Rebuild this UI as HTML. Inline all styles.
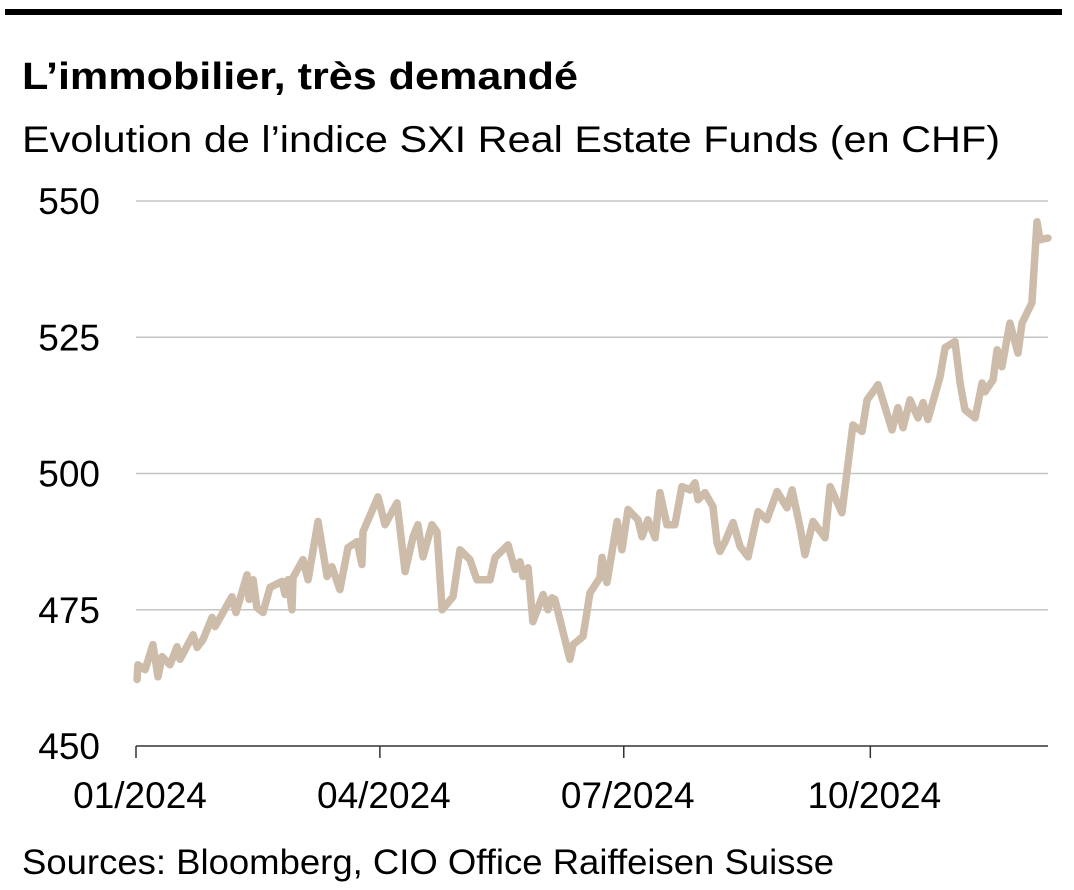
<!DOCTYPE html>
<html><head><meta charset="utf-8"><style>
html,body{margin:0;padding:0;background:#fff;}
svg{display:block;font-family:"Liberation Sans",sans-serif;}
</style></head><body>
<svg id="chart" width="1074" height="890" viewBox="0 0 1074 890" xmlns="http://www.w3.org/2000/svg">
<rect x="5" y="9" width="1057" height="6" fill="#000"/>
<text x="22" y="89" font-size="38" font-weight="bold" textLength="556" lengthAdjust="spacingAndGlyphs">L’immobilier, très demandé</text>
<text x="22" y="152" font-size="37" textLength="978" lengthAdjust="spacingAndGlyphs">Evolution de l’indice SXI Real Estate Funds (en CHF)</text>
<g id="grid"></g>
<g id="yticks"></g>
<g id="xaxis"></g>
<path id="line" fill="none" stroke="#cdbcaa" stroke-width="7.5" stroke-linejoin="round" stroke-linecap="round"/>
<text x="22" y="874" font-size="35" textLength="812" lengthAdjust="spacingAndGlyphs">Sources: Bloomberg, CIO Office Raiffeisen Suisse</text>
</svg>
<script>
const yTicks=[450,475,500,525,550];
const xTickLabels=["01/2024","04/2024","07/2024","10/2024"];
const xTickDays=[0,91,182,274];
const days=[0.4,0.7,3.4,6.3,8.2,9.7,12.7,15.3,16.4,21.3,22.8,25,28.4,29.5,35.8,37.3,41.4,42.2,43.7,45.1,47.4,50,54.5,55.6,56.7,58.2,58.6,62.3,64.2,67.9,71.3,73.1,76.1,79.1,82.5,84.3,84.7,90.3,92.9,97.4,100.4,103.4,105.2,107.1,110.4,112.3,114.2,118.3,120.9,124.6,127.2,132.1,134,138.8,141.4,143.3,144.4,146.3,148.1,151.9,153.7,155.2,156.3,159.3,161.9,163.1,166.8,169.4,173.1,173.9,175.7,179.5,181.3,183.6,187.3,188.8,191,193.7,195.5,198.1,201.1,203.7,206.7,208.6,209.7,212.3,215.3,216.8,217.9,219.8,222.8,225.4,228.4,232.1,235.4,239.2,242.9,244.8,247.8,249.6,252.6,257.1,259,263.4,267.5,270.9,272.8,276.9,282.1,284.3,286.2,288.8,291.8,293.7,295.5,300,301.9,305.6,307.5,309.3,313.1,315.7,316.8,319.8,321.3,323.1,326.1,329.1,330.6,334.3,336.2,337.3,340.3];
const values=[462.2,464.9,464.0,468.6,462.7,466.4,464.9,468.2,465.9,470.4,468.1,469.5,473.6,471.9,477.4,474.5,481.4,476.9,480.5,475.4,474.5,479.1,480.2,477.8,480.5,475.0,480.9,484.2,480.5,491.2,481.1,482.9,478.7,486.4,487.5,483.3,489.3,495.7,490.6,494.6,482.0,488.4,490.6,484.7,490.6,489.3,475.0,477.4,486.0,484.2,480.5,480.5,484.6,486.9,482.4,483.8,481.1,482.7,472.8,477.8,475.0,477.2,476.9,471.0,465.9,468.6,470.1,478.1,480.9,484.6,480.0,491.2,486.0,493.4,491.5,488.4,491.5,488.2,496.5,490.6,490.6,497.6,497.0,498.3,495.2,496.5,493.9,487.3,485.7,487.5,491.0,486.6,484.7,493.0,491.5,496.7,493.7,497.0,490.1,485.1,491.2,488.2,497.6,492.8,508.9,507.7,513.5,516.3,508.0,512.1,508.4,513.5,510.2,513.0,509.9,517.7,523.1,524.2,516.6,511.7,510.2,516.6,515.0,517.2,522.7,519.6,527.6,522.1,527.6,531.3,546.2,542.9,543.2];

const NS="http://www.w3.org/2000/svg";
const X0=136,X1=1048,D1=340.3;
const Y0=746,Y1=201;
const xs=d=>X0+(d/D1)*(X1-X0);
const ys=v=>Y0-(v-450)/100*(Y0-Y1);
function mk(tag,attrs,parent,txt){const e=document.createElementNS(NS,tag);for(const k in attrs)e.setAttribute(k,attrs[k]);if(txt!==undefined)e.textContent=txt;parent.appendChild(e);return e;}
const grid=document.getElementById('grid'),yg=document.getElementById('yticks'),xg=document.getElementById('xaxis');
yTicks.forEach(v=>{
  if(v>450){const l=mk('line',{x1:X0,x2:X1,y1:ys(v),y2:ys(v),stroke:'#c4c4c4','stroke-width':1.5},grid);
  
  }
  const t=mk('text',{x:100,y:ys(v)+13,'font-size':37,'text-anchor':'end'},yg,String(v));
  
  
});
const ax=mk('line',{x1:X0,x2:X1,y1:Y0,y2:Y0,stroke:'#333','stroke-width':1.5},xg);


xTickDays.forEach((d,i)=>{
  const x=X0+d*2.68;
  const tk=mk('line',{x1:x,x2:x,y1:Y0,y2:Y0+12,stroke:'#333','stroke-width':1.5},xg);
  
  
  const t=mk('text',{x:x+4,y:808,'font-size':37,'text-anchor':'middle'},xg,xTickLabels[i]);
  
  
});
document.getElementById('line').setAttribute('d',days.map((d,i)=>(i?'L':'M')+xs(d).toFixed(1)+','+ys(values[i]).toFixed(1)).join(''));
</script>
</body></html>
